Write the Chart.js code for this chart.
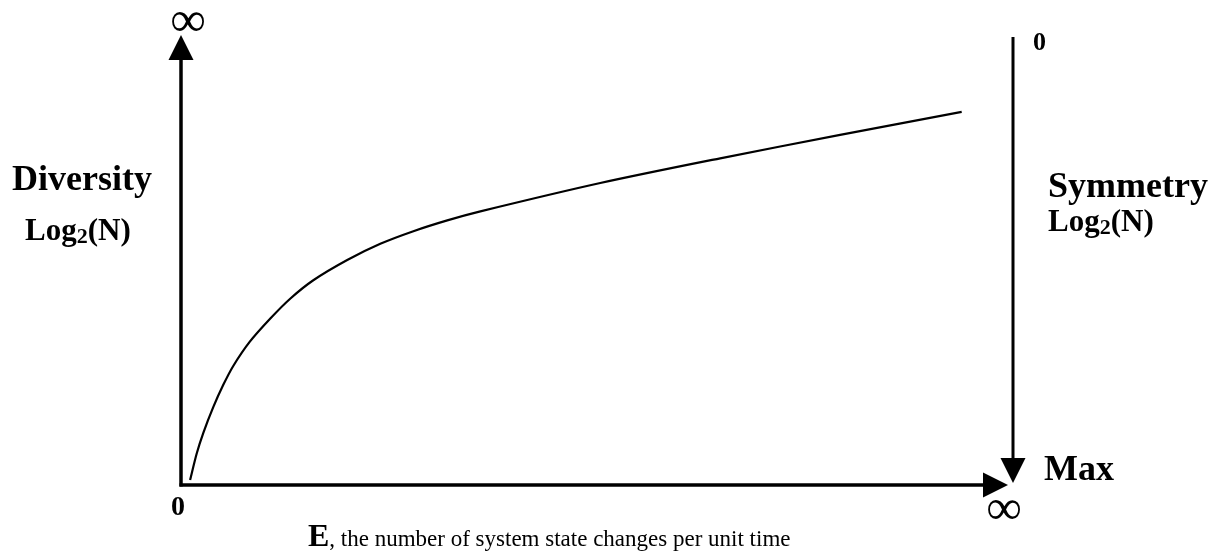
<!DOCTYPE html>
<html>
<head>
  <title>Diversity vs Symmetry</title>
  <script src="https://cdn.jsdelivr.net/npm/chart.js@4/dist/chart.umd.min.js"></script>
  <style>
    body { margin: 0; background: #fff; }
    .chart-container { width: 1222px; height: 554px; position: relative; }
  </style>
</head>
<body>
  <div class="chart-container">
    <canvas id="curveChart"></canvas>
  </div>
  <script>
    // E (state changes per unit time) and Diversity (0-100 scale)
    const eValues = [1.1, 1.9, 2.7, 3.9, 5.1, 6.3, 8.3, 10.8, 13.2, 16.0, 20.1, 24.1, 28.1, 32.2, 36.2, 50.7, 65.2, 79.7, 94.4];
    const diversityValues = [1.1, 7.0, 11.6, 17.3, 22.2, 26.4, 31.8, 37.0, 41.4, 45.5, 50.0, 53.6, 56.4, 58.8, 60.8, 67.1, 72.6, 77.8, 82.9];
    const leftTickLabels = ['0', '\u221E'];   // bottom, top
    const bottomTickLabels = ['0', '\u221E']; // left, right
    const rightTickLabels = ['0', 'Max'];     // top, bottom

    const serif = '"Liberation Serif", "Times New Roman", serif';

    function drawLog2N(ctx, x, y, size) {
      ctx.textAlign = 'left';
      ctx.font = 'bold ' + size + 'px ' + serif;
      ctx.fillText('Log', x, y);
      let w = ctx.measureText('Log').width;
      ctx.font = 'bold ' + Math.round(size * 0.7) + 'px ' + serif;
      ctx.fillText('2', x + w, y + size * 0.1);
      w += ctx.measureText('2').width;
      ctx.font = 'bold ' + size + 'px ' + serif;
      ctx.fillText('(N)', x + w, y);
    }

    const axesPlugin = {
      id: 'arrowAxes',
      afterDraw(chart) {
        const ctx = chart.ctx;
        const xs = chart.scales.x;
        const ys = chart.scales.y;
        const x0 = xs.getPixelForValue(0);
        const xEnd = xs.getPixelForValue(100);
        const y0 = ys.getPixelForValue(0);
        const yTop = ys.getPixelForValue(100);
        const head = 25, half = 12.5;
        ctx.save();
        ctx.fillStyle = '#000';
        ctx.strokeStyle = '#000';
        ctx.lineWidth = 3.5;

        // left axis
        ctx.beginPath();
        ctx.moveTo(x0, y0 + 1.5);
        ctx.lineTo(x0, yTop + head);
        ctx.stroke();
        ctx.beginPath();
        ctx.moveTo(x0, yTop);
        ctx.lineTo(x0 - half, yTop + head);
        ctx.lineTo(x0 + half, yTop + head);
        ctx.closePath();
        ctx.fill();

        // bottom axis
        ctx.beginPath();
        ctx.moveTo(x0 - 1.5, y0);
        ctx.lineTo(xEnd - head, y0);
        ctx.stroke();
        ctx.beginPath();
        ctx.moveTo(xEnd, y0);
        ctx.lineTo(xEnd - head, y0 - half);
        ctx.lineTo(xEnd - head, y0 + half);
        ctx.closePath();
        ctx.fill();

        // right axis (symmetry, pointing down)
        const xr = xEnd + 5;
        const rTop = yTop + 2, rTip = y0 - 2;
        ctx.lineWidth = 3;
        ctx.beginPath();
        ctx.moveTo(xr, rTop);
        ctx.lineTo(xr, rTip - head);
        ctx.stroke();
        ctx.beginPath();
        ctx.moveTo(xr, rTip);
        ctx.lineTo(xr - half, rTip - head);
        ctx.lineTo(xr + half, rTip - head);
        ctx.closePath();
        ctx.fill();

        // tick labels
        ctx.textBaseline = 'alphabetic';
        ctx.textAlign = 'center';
        ctx.font = '50px ' + serif;
        ctx.fillText(leftTickLabels[1], x0 + 7, yTop + 1);
        ctx.fillText(bottomTickLabels[1], xEnd - 4, y0 + 39);
        ctx.font = 'bold 28px ' + serif;
        ctx.fillText(bottomTickLabels[0], x0 - 3, y0 + 30);
        ctx.font = 'bold 26px ' + serif;
        ctx.textAlign = 'left';
        ctx.fillText(rightTickLabels[0], xr + 20, yTop + 15);
        ctx.font = 'bold 36px ' + serif;
        ctx.fillText(rightTickLabels[1], xr + 31, y0 - 5);

        // axis titles
        ctx.font = 'bold 36px ' + serif;
        ctx.fillText('Diversity', 12, 190);
        ctx.fillText('Symmetry', xr + 35, 197);
        drawLog2N(ctx, 25, 240, 31);
        drawLog2N(ctx, xr + 35, 231, 31);

        // bottom title
        ctx.font = 'bold 32px ' + serif;
        ctx.fillText('E', 308, 546);
        const ew = ctx.measureText('E').width;
        ctx.font = '23px ' + serif;
        ctx.fillText(', the number of system state changes per unit time', 308 + ew, 546);
        ctx.restore();
      }
    };

    new Chart(document.getElementById('curveChart').getContext('2d'), {
      type: 'line',
      data: {
        datasets: [{
          data: eValues.map((e, i) => ({ x: e, y: diversityValues[i] })),
          borderColor: '#000',
          borderWidth: 2.2,
          pointRadius: 0,
          fill: false,
          tension: 0.3,
        }],
      },
      options: {
        responsive: true,
        maintainAspectRatio: false,
        animation: false,
        layout: { padding: { left: 181, right: 214, top: 35, bottom: 69 } },
        plugins: { legend: { display: false }, tooltip: { enabled: false } },
        scales: {
          x: { type: 'linear', min: 0, max: 100, display: false },
          y: { min: 0, max: 100, display: false },
        },
      },
      plugins: [axesPlugin],
    });
  </script>
</body>
</html>
